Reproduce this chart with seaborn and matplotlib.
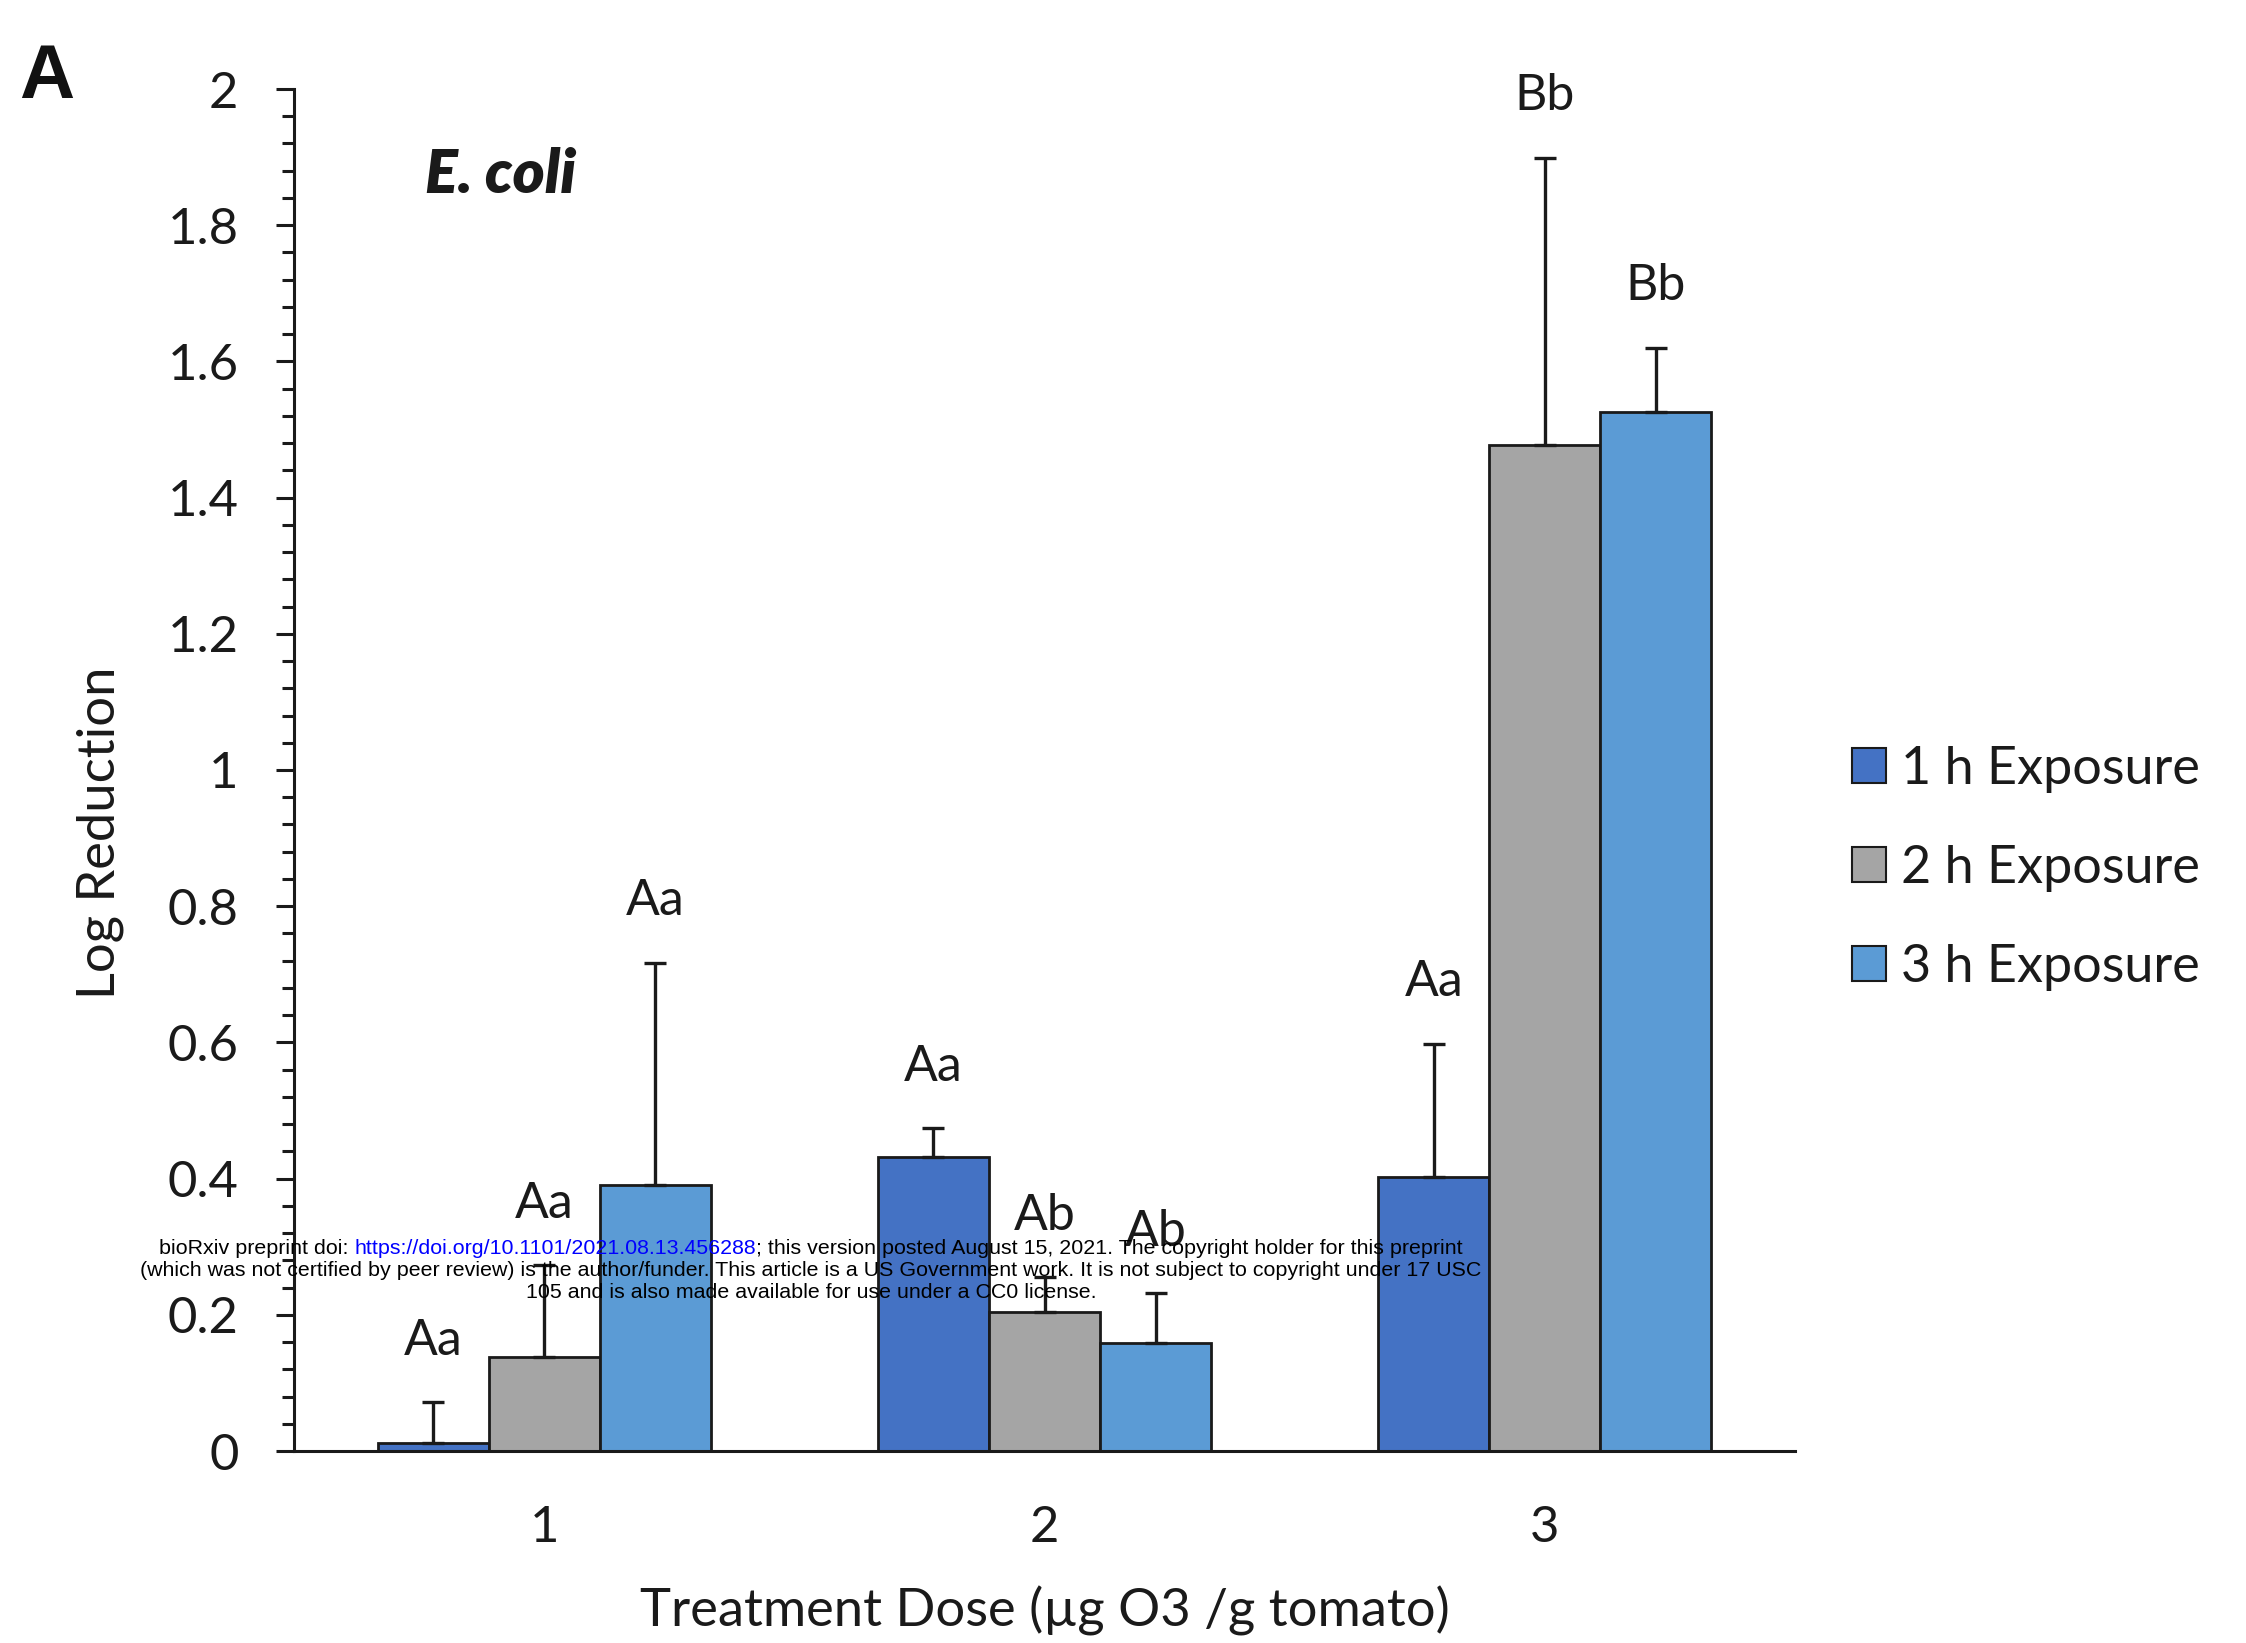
import matplotlib
matplotlib.use("Agg")
import matplotlib.pyplot as plt
import numpy as np
import pandas as pd
import seaborn as sns
from matplotlib.ticker import MultipleLocator, FuncFormatter

# Treatment doses (x categories) and exposure times (hue)
doses = ["1", "2", "3"]
exposures = ["1 h Exposure", "2 h Exposure", "3 h Exposure"]

# Mean log reduction per dose, one list per exposure time
mean_1h = [0.012, 0.432, 0.402]
mean_2h = [0.138, 0.204, 1.477]
mean_3h = [0.390, 0.159, 1.526]

# Upper error (SD)
err_1h = [0.060, 0.042, 0.196]
err_2h = [0.135, 0.051, 0.422]
err_3h = [0.327, 0.073, 0.094]

# Significance letters
letters_1h = ["Aa", "Aa", "Aa"]
letters_2h = ["Aa", "Ab", "Bb"]
letters_3h = ["Aa", "Ab", "Bb"]

colors = ["#4472C4", "#A5A5A5", "#5B9BD5"]

means = [mean_1h, mean_2h, mean_3h]
errs = [err_1h, err_2h, err_3h]
letters = [letters_1h, letters_2h, letters_3h]

df = pd.DataFrame({
    "dose": np.tile(doses, len(exposures)),
    "exposure": np.repeat(exposures, len(doses)),
    "value": np.concatenate(means),
})

sns.set_theme(style="white")
plt.rcParams["font.family"] = ["Lato", "DejaVu Sans"]

W, H = 2246, 1643
fig = plt.figure(figsize=(W / 100, H / 100), dpi=100)
ax = fig.add_axes([294 / W, 1 - 1451 / H, (1795 - 294) / W, (1451 - 89) / H])

sns.barplot(data=df, x="dose", y="value", hue="exposure", order=doses,
            hue_order=exposures, palette=colors, width=0.666, gap=0,
            edgecolor="#1a1a1a", linewidth=2.0, errorbar=None, saturation=1,
            ax=ax)

# One-sided error bars and letters above each bar
for cont, e_list, l_list in zip(ax.containers, errs, letters):
    for bar, e, lab in zip(cont, e_list, l_list):
        xc = bar.get_x() + bar.get_width() / 2
        h = bar.get_height()
        ax.errorbar(xc, h, yerr=[[0], [e]], fmt="none", ecolor="#1a1a1a",
                    elinewidth=2.4, capsize=8, capthick=2.4, zorder=1)
        ax.text(xc, h + e + 0.09, lab, ha="center", va="center",
                fontsize=36, color="#1a1a1a")

ax.set_ylim(0, 2)
ax.set_xlim(-0.5, 2.5)
ax.yaxis.set_major_locator(MultipleLocator(0.2))
ax.yaxis.set_minor_locator(MultipleLocator(0.04))
ax.yaxis.set_major_formatter(FuncFormatter(lambda v, p: f"{v:g}"))
ax.tick_params(axis="y", which="major", direction="out", length=13, width=2.2,
               color="#1a1a1a", labelsize=36.5, pad=27, left=True,
               labelcolor="#1a1a1a")
ax.tick_params(axis="y", which="minor", direction="out", length=9, width=2.2,
               color="#1a1a1a", left=True)
ax.tick_params(axis="x", length=0, labelsize=36.5, pad=39, labelcolor="#1a1a1a")

for side in ["top", "right"]:
    ax.spines[side].set_visible(False)
for side in ["left", "bottom"]:
    ax.spines[side].set_linewidth(2.2)
    ax.spines[side].set_color("#1a1a1a")

ax.set_ylabel("Log Reduction", fontsize=37.8, va="center", color="#1a1a1a")
ax.yaxis.set_label_coords(-0.129, 0.454)
ax.set_xlabel("Treatment Dose (µg O3 /g tomato)", fontsize=37.8, va="center",
              color="#1a1a1a")
ax.xaxis.set_label_coords(0.5, -0.1175)

ax.text(501 / W, 1 - 175 / H, "E. coli", transform=fig.transFigure,
        ha="center", va="center", fontsize=44, fontweight="heavy",
        fontstyle="italic", color="#1a1a1a")
fig.text(47 / W, 1 - 79 / H, "A", ha="center", va="center", fontsize=55,
         fontweight="bold", family="Liberation Sans", color="#111111")

handles, labels = ax.get_legend_handles_labels()
leg = ax.legend(handles, labels, loc="center left",
                bbox_to_anchor=(1852 / W, 1 - 868.5 / H),
                bbox_transform=fig.transFigure, frameon=False, fontsize=37.5,
                handlelength=0.66, handleheight=0.66, handletextpad=0.28,
                labelspacing=1.0, borderpad=0, borderaxespad=0)
for t in leg.get_texts():
    t.set_color("#1a1a1a")
for p in leg.get_patches():
    p.set_linewidth(1.5)

# Preprint notice
renderer = fig.canvas.get_renderer()
cx = 811
wm = dict(fontsize=15.4, family="Liberation Sans", va="center", ha="left")
pieces = [("bioRxiv preprint doi: ", "black"),
          ("https://doi.org/10.1101/2021.08.13.456288", "blue"),
          ("; this version posted August 15, 2021. The copyright holder for this preprint", "black")]
texts = [fig.text(0, 1 - 1249 / H, s, color=c, **wm) for s, c in pieces]
widths = [t.get_window_extent(renderer).width for t in texts]
x = cx - sum(widths) / 2
for t, w in zip(texts, widths):
    t.set_x(x / W)
    x += w
fig.text(cx / W, 1 - 1270.5 / H,
         "(which was not certified by peer review) is the author/funder. This article is a US Government work. It is not subject to copyright under 17 USC",
         color="black", **{**wm, "ha": "center"})
fig.text(cx / W, 1 - 1292 / H,
         "105 and is also made available for use under a CC0 license.",
         color="black", **{**wm, "ha": "center"})

fig.savefig("out.png", dpi=100, facecolor="white")
